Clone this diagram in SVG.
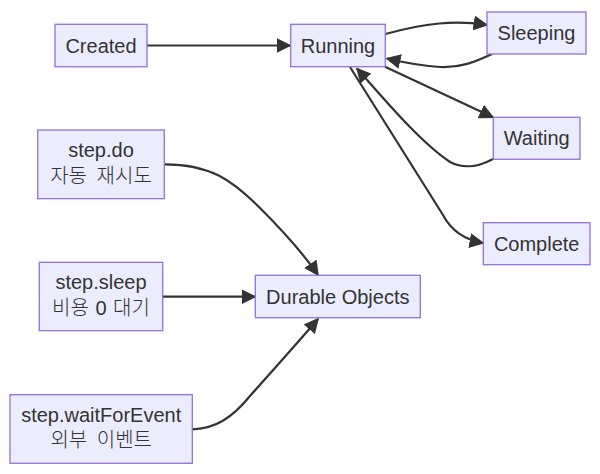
<svg xmlns="http://www.w3.org/2000/svg" width="600" height="474" viewBox="0 0 600 474">
<defs>
<marker id="arr" markerUnits="userSpaceOnUse" viewBox="0 0 10 10" refX="9" refY="5" markerWidth="15" markerHeight="15" orient="auto">
<path d="M0,0 L10,5 L0,10 z" fill="#333"/>
</marker>
<style>
.node rect{fill:#ECECFF;stroke:#9370DB;stroke-width:1.3}
.node text{font-family:"Liberation Sans","Noto Sans CJK KR",Arial,sans-serif;font-size:20px;fill:#333;text-anchor:middle}
.node text.ko{word-spacing:4px;font-weight:300}
.node text.ko2{word-spacing:1px;font-weight:300}
.edges path{fill:none;stroke:#333;stroke-width:2.2;marker-end:url(#arr)}
</style>
</defs>
<rect width="600" height="474" fill="#fff"/>
<g class="edges">
<path d="M147,45.5 L290,45.5"/>
<path d="M385.5,34 C425,23 455,20 487,25"/>
<path d="M492,54 C475,62 460,68 440,67 C420,66 402,62 387,58.5"/>
<path d="M385,66.7 L493,117.3"/>
<path d="M493,159 C480,166 466,170 450,162 C420,142 385,100 357,68.5"/>
<path d="M350,67 L443,215 Q455,238 483,243"/>
<path d="M164,164.3 C210,164 232,180 260,208 C285,233 305,256 318,275"/>
<path d="M163,296.7 L255,296.7"/>
<path d="M192,429.3 C215,429 232,418 250,396 C275,368 300,340 318,319"/>
</g>
<g id="created" class="node"><rect x="55" y="24.3" width="92" height="42.5"/><text x="101" y="52.5">Created</text></g>
<g id="running" class="node"><rect x="290.7" y="24.3" width="94.6" height="42.4"/><text x="338" y="52.5">Running</text></g>
<g id="sleeping" class="node"><rect x="487" y="12" width="99" height="42"/><text x="536.5" y="40">Sleeping</text></g>
<g id="waiting" class="node"><rect x="493.3" y="117.3" width="86.7" height="42"/><text x="536.7" y="145.3">Waiting</text></g>
<g id="complete" class="node"><rect x="483.3" y="222.7" width="106.7" height="42"/><text x="536.7" y="250.7">Complete</text></g>
<g id="stepdo" class="node"><rect x="37.7" y="130" width="126.6" height="68.7"/><text x="101" y="157">step.do</text><text class="ko" x="101" y="183">자동 재시도</text></g>
<g id="stepsleep" class="node"><rect x="39.3" y="262.3" width="123.4" height="68.4"/><text x="101" y="289">step.sleep</text><text class="ko2" x="101" y="315">비용 0 대기</text></g>
<g id="stepwait" class="node"><rect x="10" y="394.7" width="182.3" height="68.6"/><text x="101.2" y="421.7">step.waitForEvent</text><text class="ko" x="101.2" y="447">외부 이벤트</text></g>
<g id="durable" class="node"><rect x="255.3" y="275.3" width="165" height="42.4"/><text x="337.8" y="303.5">Durable Objects</text></g>
</svg>
